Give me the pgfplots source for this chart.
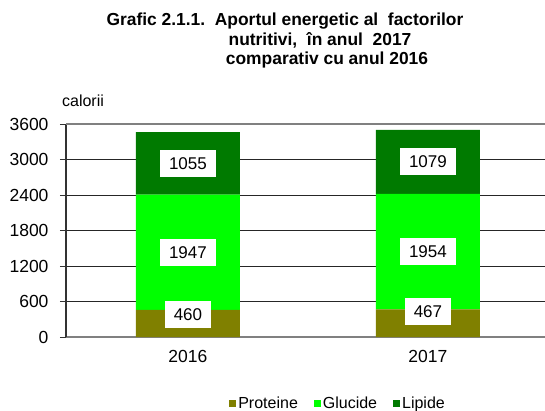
\documentclass[border=0pt]{standalone}
\usepackage{fontspec}
\setmainfont{Liberation Sans}
\usepackage{pgfplots}
\pgfplotsset{compat=1.18}
\definecolor{prot}{HTML}{808000}
\definecolor{gluc}{HTML}{00FF00}
\definecolor{lip}{HTML}{007A00}
\begin{document}
\begin{tikzpicture}[x=1bp,y=1bp]
\useasboundingbox (-66,-73) rectangle (479,337);
\node[font=\bfseries\fontsize{17.4bp}{21bp}\selectfont] at (219,316) {Grafic 2.1.1.\ \ Aportul energetic al\ \ factorilor};
\node[font=\bfseries\fontsize{17.4bp}{21bp}\selectfont] at (254,297) {nutritivi,\ \ în anul\ \ 2017};
\node[font=\bfseries\fontsize{17.4bp}{21bp}\selectfont] at (261,277) {comparativ cu anul 2016};
\node[font=\fontsize{16bp}{19bp}\selectfont] at (17,236) {calorii};
\begin{axis}[
  at={(0,0)}, anchor=south west,
  scale only axis, width=479bp, height=213bp,
  xmin=-0.508, xmax=1.4877, ymin=0, ymax=3600,
  ybar stacked, bar width=104bp,
  ytick={0,600,...,3600},
  xtick={0,1}, xticklabels={2016,2017},
  /pgf/number format/set thousands separator={},
  /pgf/number format/assume math mode=true,
  ticklabel style={font=\fontsize{17.5bp}{20bp}\selectfont},
  xticklabel style={yshift=-4bp},
  yticklabel style={xshift=-8bp},
  axis x line*=bottom, axis y line*=left,
  x axis line style={draw=gray, line width=1.2bp},
  y axis line style={draw=black!80, line width=1.2bp},
  xtick style={draw=none},
  ytick style={draw=black!80, line width=1bp},
  tick align=outside, major tick length=6bp,
  ymajorgrids, grid style={draw=black!85, line width=0.9bp},
  legend style={draw=none, at={(0.568,-0.31)}, anchor=center, legend columns=3,
    font=\fontsize{16bp}{19bp}\selectfont,
    /tikz/every even column/.append style={column sep=14bp}},
  legend image code/.code={\fill[#1] (0bp,-3.5bp) rectangle (7bp,3.5bp);},
]
\addplot[fill=prot, draw=none] coordinates {(0,460) (1,467)};
\addplot[fill=gluc, draw=none] coordinates {(0,1947) (1,1954)};
\addplot[fill=lip, draw=none] coordinates {(0,1055) (1,1079)};
\legend{Proteine,Glucide,Lipide}
\coordinate (TL) at (rel axis cs:0,1);
\coordinate (TR) at (rel axis cs:1,1);
\coordinate (a1) at (axis cs:0,372);
\coordinate (a2) at (axis cs:0,1433.5);
\coordinate (a3) at (axis cs:0,2934.5);
\coordinate (b1) at (axis cs:1,423);
\coordinate (b2) at (axis cs:1,1444);
\coordinate (b3) at (axis cs:1,2960.5);
\end{axis}
\draw[gray, line width=1.5bp] (TL) -- (TR);
\tikzset{lbl/.style={fill=white, inner xsep=9bp, minimum height=27bp, font=\fontsize{17bp}{20bp}\selectfont}}
\node[lbl] at (a1) {460};
\node[lbl] at (a2) {1947};
\node[lbl] at (a3) {1055};
\node[lbl] at (b1) {467};
\node[lbl] at (b2) {1954};
\node[lbl] at (b3) {1079};
\end{tikzpicture}
\end{document}
